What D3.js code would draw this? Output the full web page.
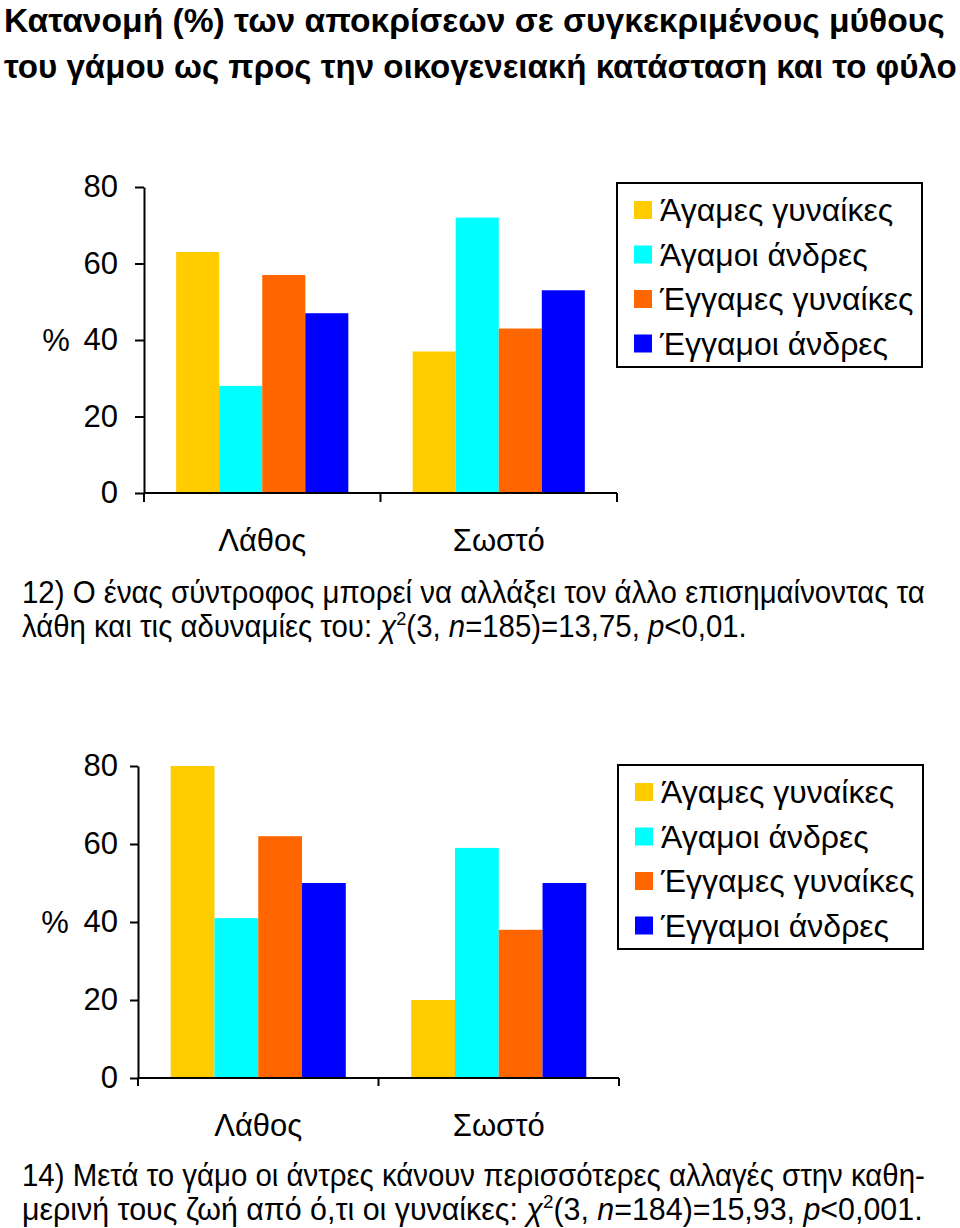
<!DOCTYPE html>
<html>
<head>
<meta charset="utf-8">
<script src="https://cdn.jsdelivr.net/npm/d3@7"></script>
<style>
  html, body { margin: 0; padding: 0; background: #fff; }
  svg { display: block; }
  text { font-family: "Liberation Sans", Arial, sans-serif; fill: #000; }
</style>
</head>
<body>
<svg id="chart" width="960" height="1228"></svg>
<script>
// ---- Data ----
const categories = ["Λάθος", "Σωστό"];
const seriesNames = ["Άγαμες γυναίκες", "Άγαμοι άνδρες", "Έγγαμες γυναίκες", "Έγγαμοι άνδρες"];
const seriesColors = ["#FFCC00", "#00FFFF", "#FF6600", "#0000FF"];
const yTicks = [0, 20, 40, 60, 80];
// Question 12
const q12Lathos = [63, 28, 57, 47];
const q12Sosto  = [37, 72, 43, 53];
// Question 14
const q14Lathos = [80, 41, 62, 50];
const q14Sosto  = [20, 59, 38, 50];

const titleLines = [
  "Κατανομή (%) των αποκρίσεων σε συγκεκριμένους μύθους",
  "του γάμου ως προς την οικογενειακή κατάσταση και το φύλο"
];
const caption12 = [
  [{t: "12) Ο ένας σύντροφος μπορεί να αλλάξει τον άλλο επισημαίνοντας τα"}],
  [{t: "λάθη και τις αδυναμίες του: "}, {t: "χ", i: true}, {t: "2", sup: true}, {t: "(3, "}, {t: "n", i: true}, {t: "=185)=13,75, "}, {t: "p", i: true}, {t: "<0,01."}]
];
const caption14 = [
  [{t: "14) Μετά το γάμο οι άντρες κάνουν περισσότερες αλλαγές στην καθη-"}],
  [{t: "μερινή τους ζωή από ό,τι οι γυναίκες: "}, {t: "χ", i: true}, {t: "2", sup: true}, {t: "(3, "}, {t: "n", i: true}, {t: "=184)=15,93, "}, {t: "p", i: true}, {t: "<0,001."}]
];

const svg = d3.select("#chart");
svg.append("rect").attr("width", 960).attr("height", 1228).attr("fill", "#fff");

// ---- Condensed text lines (scaled horizontally to match the narrow face) ----
function scaledLines(lines, opts) {
  const g = svg.append("g");
  lines.forEach((parts, li) => {
    const t = g.append("text")
      .attr("font-size", opts.size)
      .attr("font-weight", opts.bold ? "bold" : "normal");
    parts.forEach((p, pi) => {
      const ts = t.append("tspan").text(p.t);
      if (p.i) ts.attr("font-style", "italic");
      if (p.sup) {
        ts.attr("font-size", opts.size * 0.62).attr("dy", -opts.size * 0.38);
      }
      if (pi > 0 && parts[pi - 1].sup) {
        ts.attr("dy", opts.size * 0.38);
      }
    });
    const w = t.node().getComputedTextLength();
    const s = opts.widths[li] / w;
    t.attr("transform", `translate(${opts.x},${opts.baselines[li]}) scale(${s},1)`);
  });
}

scaledLines(titleLines.map(s => [{t: s}]), {
  size: 34, bold: true, x: 4, baselines: [32, 78], widths: [941, 953]
});

// ---- Chart drawing ----
function drawChart(cfg) {
  const x0 = d3.scaleBand().domain(categories)
    .range([cfg.left, cfg.right]).paddingInner(0.272).paddingOuter(0.136);
  const x1 = d3.scaleBand().domain(seriesNames).range([0, x0.bandwidth()]);
  const y = d3.scaleLinear().domain([0, 80]).range([cfg.bottom, cfg.top]);

  const g = svg.append("g");
  const values = [cfg.data[0], cfg.data[1]];

  // bars
  categories.forEach((c, ci) => {
    g.append("g").selectAll("rect").data(values[ci]).join("rect")
      .attr("x", (d, i) => x0(c) + x1(seriesNames[i]))
      .attr("width", x1.bandwidth())
      .attr("y", d => y(d))
      .attr("height", d => y(0) - y(d))
      .attr("fill", (d, i) => seriesColors[i]);
  });

  // y axis
  const ya = g.append("g").attr("transform", `translate(${cfg.left},0)`)
    .call(d3.axisLeft(y).tickValues(yTicks).tickSize(cfg.tick).tickSizeOuter(0).tickPadding(cfg.pad));
  ya.select(".domain").attr("stroke", "#000").attr("stroke-width", 2);
  ya.selectAll(".tick line").attr("stroke", "#000").attr("stroke-width", 2);
  ya.selectAll(".tick text").attr("font-size", 31)
    .attr("font-family", "'Liberation Sans', Arial, sans-serif").attr("fill", "#000");

  // x axis
  g.append("line")
    .attr("x1", cfg.left).attr("x2", cfg.right)
    .attr("y1", y(0)).attr("y2", y(0))
    .attr("stroke", "#000").attr("stroke-width", 2);
  const bounds = d3.range(categories.length + 1).map(i => cfg.left + i * x0.step());
  g.selectAll(".xt").data(bounds).join("line")
    .attr("x1", d => d).attr("x2", d => d)
    .attr("y1", y(0)).attr("y2", y(0) + cfg.tick)
    .attr("stroke", "#000").attr("stroke-width", 2);
  g.selectAll(".xl").data(categories).join("text")
    .attr("x", d => x0(d) + x0.bandwidth() / 2)
    .attr("y", cfg.catBaseline)
    .attr("text-anchor", "middle")
    .attr("font-size", 31)
    .text(d => d);

  // % label
  g.append("text").attr("x", cfg.pctX).attr("y", y(40)).attr("dy", "0.35em")
    .attr("text-anchor", "middle").attr("font-size", 31).text("%");

  // legend
  const L = cfg.legend;
  g.append("rect").attr("x", L.x).attr("y", L.y).attr("width", L.w).attr("height", L.h)
    .attr("fill", "#fff").attr("stroke", "#000").attr("stroke-width", 2);
  const items = g.append("g").selectAll("g").data(seriesNames).join("g")
    .attr("transform", (d, i) => `translate(${L.x + 17},${L.y + 27 + i * 44.5})`);
  items.append("rect").attr("x", 0).attr("y", -9).attr("width", 18).attr("height", 18)
    .attr("fill", (d, i) => seriesColors[i]);
  items.append("text").attr("x", 26).attr("y", 0).attr("dy", "0.35em")
    .attr("font-size", 32).text(d => d);
}

drawChart({
  data: [q12Lathos, q12Sosto],
  left: 144, right: 617, top: 187, bottom: 493, tick: 9, pad: 17,
  catBaseline: 551, pctX: 56,
  legend: {x: 617, y: 183, w: 305, h: 184}
});

drawChart({
  data: [q14Lathos, q14Sosto],
  left: 138, right: 619, top: 766, bottom: 1078, tick: 8, pad: 12,
  catBaseline: 1136, pctX: 55,
  legend: {x: 618, y: 765, w: 305, h: 184}
});

// ---- Captions ----
scaledLines(caption12, {size: 31, x: 22, baselines: [603, 637], widths: [903, 725]});
scaledLines(caption14, {size: 31, x: 22, baselines: [1186, 1220], widths: [903, 901]});
</script>
</body>
</html>
